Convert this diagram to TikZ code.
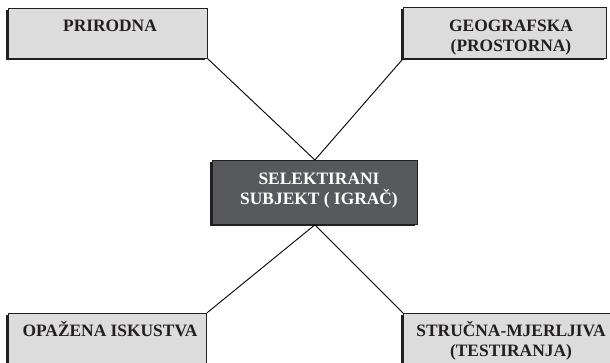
\documentclass[tikz,border=0pt]{standalone}
\usepackage{fontspec}
\setmainfont{Liberation Serif}
\usepackage{xcolor}
\usepackage{tikz}
\usetikzlibrary{arrows.meta, positioning, shadows}

\definecolor{boxgray}{HTML}{DCDCDD}
\definecolor{centergray}{HTML}{58595B}
\definecolor{edgeblack}{HTML}{231F20}

\begin{document}
\begin{tikzpicture}[
    x=1pt, y=-1pt,
    catbox/.style={rectangle, draw=edgeblack, line width=0.8pt, fill=boxgray, inner sep=0pt,
        anchor=north west,
        drop shadow={shadow xshift=-2pt, shadow yshift=-2pt, fill=edgeblack, opacity=1}},
    subjbox/.style={catbox, fill=centergray},
    lbl/.style={anchor=base, align=center, inner sep=0pt,
        font=\fontsize{17.4}{20}\selectfont\bfseries, text=edgeblack},
    link/.style={draw=black, line width=0.9pt}
]
\clip (0,0) rectangle (610,362);

% Boxes
\node[catbox, minimum width=199pt, minimum height=50pt] (prirodna) at (8,8) {};
\node[catbox, minimum width=203pt, minimum height=51pt] (geografska) at (403,7) {};
\node[subjbox, minimum width=205pt, minimum height=64pt] (subjekt) at (212,160) {};
\node[catbox, minimum width=198pt, minimum height=60pt] (opazena) at (8,313) {};
\node[catbox, minimum width=215pt, minimum height=60pt] (strucna) at (403,313) {};

% Texts (base = last line)
\node[lbl] (prirodnatxt) at (110,31) {PRIRODNA};
\node[lbl] (geografskatxt) at (511,51.5) {GEOGRAFSKA\\(PROSTORNA)};
\node[lbl, text=white] (subjekttxt) at (319,204) {SELEKTIRANI\\SUBJEKT ( IGRA\v{C})};
\node[lbl] (opazenatxt) at (110,336) {OPA\v{Z}ENA ISKUSTVA};
\node[lbl] (strucnatxt) at (511,356) {STRU\v{C}NA-MJERLJIVA\\(TESTIRANJA)};

% Links to the subject
\draw[link] (prirodna.south east) -- (subjekt.north);
\draw[link] (geografska.south west) -- (subjekt.north);
\draw[link] (subjekt.south) -- (opazena.north east);
\draw[link] (subjekt.south) -- (strucna.north west);

\end{tikzpicture}
\end{document}
